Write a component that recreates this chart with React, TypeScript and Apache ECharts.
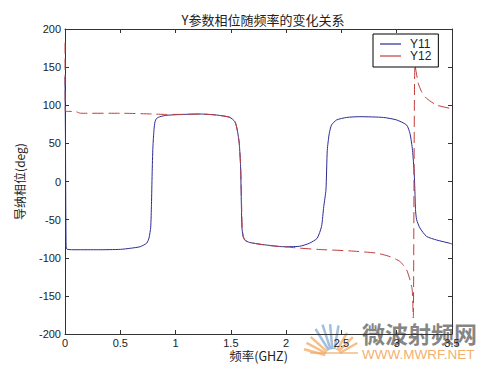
import React, { useEffect, useRef } from "react";
import * as echarts from "echarts";

const titleText = "Y参数相位随频率的变化关系";
const xName = "频率(GHZ)";
const yName = "导纳相位(deg)";
const seriesNames = ["Y11", "Y12"];

const y11Freq = [
  0, 0.004, 0.01, 0.02, 0.1, 0.3, 0.5, 0.59, 0.68, 0.74, 0.76, 0.775, 0.782, 0.788, 0.795, 0.805,
  0.814, 0.829, 0.859, 0.919, 1.07, 1.22, 1.37, 1.49, 1.537, 1.558, 1.576, 1.588, 1.595, 1.6, 1.61,
  1.627, 1.67, 1.82, 1.97, 2.12, 2.21, 2.28, 2.32, 2.34, 2.36, 2.372, 2.39, 2.41, 2.456, 2.547,
  2.667, 2.88, 3.0, 3.09, 3.12, 3.143, 3.158, 3.165, 3.17, 3.18, 3.21, 3.27, 3.36, 3.48, 3.5,
];
const y11Phase = [
  137, 60, -85, -89, -89.5, -89.5, -89, -87.6, -85.5, -80.7, -74, -60, -30, 10, 45, 68,
  78.4, 82.8, 85, 86.8, 88, 88.5, 87.2, 84.2, 78.4, 67.5, 50, 19.4, -30, -60, -72,
  -77, -80, -83.3, -85.5, -85, -81, -74.5, -59, -33, -11, 41, 63, 74, 80.7, 84,
  85, 84, 80.7, 74, 63, 41, 11, -15, -37, -50, -61, -72, -76.7, -81, -82,
];

const y12Freq = [
  0, 0.003, 0.01, 0.1, 0.14, 0.5, 0.8, 0.9, 1.07, 1.22, 1.37, 1.49, 1.537, 1.558, 1.576, 1.59,
  1.597, 1.603, 1.613, 1.63, 1.67, 1.82, 2.03, 2.276, 2.577, 2.82, 2.94, 3.03, 3.09, 3.12, 3.14,
  3.15, 3.165, 3.195, 3.225, 3.27, 3.36, 3.48, 3.5,
];
const y12Phase = [
  182, 92, 92, 91.5, 89.5, 89.5, 88.5, 88, 88, 88.5, 87.2, 84.2, 78.4, 67.5, 50, 15,
  -30, -60, -72, -77, -80, -83.5, -86.3, -89, -91, -94, -98.6, -105, -116, -129, -142,
  -179, 152.8, 128.8, 117.8, 109, 100.3, 96, 95.5,
];

const zip = (xs: number[], ys: number[]) => xs.map((x, i) => [x, ys[i]]);

export default function App() {
  const ref = useRef<HTMLDivElement>(null);
  useEffect(() => {
    if (!ref.current) return;
    const chart = echarts.init(ref.current, null, { renderer: "svg" });
    const axisColor = "#333";
    const labelStyle = { color: "#222", fontSize: 11, fontFamily: "Liberation Sans, Arial, sans-serif" };
    const cx = 333;
    const cy = 357;
    const rays: any[] = [];
    const rayDefs = [
      { a: 165, l: 30, c: "rgba(240,170,100,0.75)" },
      { a: 152, l: 30, c: "rgba(240,170,100,0.75)" },
      { a: 138, l: 30, c: "rgba(240,170,100,0.75)" },
      { a: 122, l: 33, c: "rgba(140,175,215,0.8)" },
      { a: 108, l: 34, c: "rgba(140,175,215,0.8)" },
      { a: 95, l: 33, c: "rgba(140,175,215,0.8)" },
      { a: 80, l: 32, c: "rgba(140,175,215,0.8)" },
      { a: 60, l: 28, c: "rgba(240,170,100,0.75)" },
      { a: 45, l: 28, c: "rgba(240,170,100,0.75)" },
      { a: 30, l: 28, c: "rgba(240,170,100,0.75)" },
    ];
    rayDefs.forEach((r) => {
      const rad = (r.a * Math.PI) / 180;
      rays.push({
        type: "line",
        shape: {
          x1: cx + Math.cos(rad) * 8,
          y1: cy - Math.sin(rad) * 8,
          x2: cx + Math.cos(rad) * r.l,
          y2: cy - Math.sin(rad) * r.l,
        },
        style: { stroke: r.c, lineWidth: 2.5 },
        silent: true,
      });
    });
    const axisCommon = {
      axisLine: { show: true, onZero: false, lineStyle: { color: axisColor, width: 1 } },
      axisTick: { show: true, inside: true, length: 4, lineStyle: { color: axisColor } },
      splitLine: { show: false },
    };
    chart.setOption({
      animation: false,
      backgroundColor: "#fff",
      title: {
        text: titleText,
        left: 258,
        textAlign: "center",
        top: 8,
        textStyle: { fontSize: 13, fontWeight: "normal", color: "#222", fontFamily: "Noto Sans CJK SC" },
      },
      legend: {
        data: seriesNames,
        orient: "vertical",
        left: 373,
        top: 34,
        padding: [4, 7, 5, 7],
        icon: "rect",
        itemWidth: 21,
        itemHeight: 1.2,
        itemGap: 0,
        borderColor: "#000",
        borderWidth: 1,
        backgroundColor: "#fff",
        textStyle: { fontSize: 12, lineHeight: 12, color: "#222", padding: [0, 0, 0, 4], fontFamily: "Liberation Sans, Arial, sans-serif" },
      },
      grid: { left: 65, right: 48, top: 29, bottom: 41, outerBoundsMode: "none", containLabel: false },
      xAxis: [
        {
          type: "value",
          min: 0,
          max: 3.5,
          interval: 0.5,
          name: xName,
          nameLocation: "middle",
          nameGap: 15.5,
          nameMoveOverlap: false,
          nameTextStyle: { fontSize: 12.5, color: "#222", fontFamily: "Noto Sans CJK SC" },
          axisLabel: { ...labelStyle, margin: 3 },
          ...axisCommon,
        },
        {
          type: "value",
          position: "top",
          min: 0,
          max: 3.5,
          interval: 0.5,
          axisLabel: { show: false },
          ...axisCommon,
        },
      ],
      yAxis: [
        {
          type: "value",
          min: -200,
          max: 200,
          interval: 50,
          name: yName,
          nameLocation: "middle",
          nameGap: 40,
          nameMoveOverlap: false,
          nameTextStyle: { fontSize: 12, color: "#222", fontFamily: "Noto Sans CJK SC" },
          axisLabel: { ...labelStyle, margin: 4 },
          ...axisCommon,
        },
        {
          type: "value",
          position: "right",
          min: -200,
          max: 200,
          interval: 50,
          axisLabel: { show: false },
          ...axisCommon,
        },
      ],
      series: [
        {
          name: seriesNames[0],
          type: "line",
          data: zip(y11Freq, y11Phase),
          showSymbol: false,
          symbol: "none",
          smooth: 0.2,
          color: "#2b2b96",
          lineStyle: { color: "#2b2b96", width: 1 },
        },
        {
          name: seriesNames[1],
          type: "line",
          data: zip(y12Freq, y12Phase),
          showSymbol: false,
          symbol: "none",
          smooth: 0.2,
          color: "#c0403c",
          lineStyle: { color: "#c0403c", width: 1, type: [11, 5] },
        },
      ],
      graphic: [
        ...rays,
        {
          type: "line",
          shape: { x1: 310, y1: 353, x2: 358, y2: 353 },
          style: { stroke: "rgba(240,170,100,0.6)", lineWidth: 2 },
          silent: true,
        },
        {
          type: "text",
          left: 362,
          top: 321,
          silent: true,
          style: {
            text: "微波射频网",
            fontSize: 23,
            fontWeight: "bold",
            fill: "rgba(105,105,105,0.82)",
            fontFamily: "Noto Sans CJK SC",
          },
        },
        {
          type: "text",
          left: 362,
          top: 347,
          silent: true,
          style: {
            text: "WWW.MWRF.NET",
            fontSize: 13.5,
            fill: "rgba(240,160,80,0.85)",
            fontFamily: "Liberation Sans, Arial, sans-serif",
          },
        },
      ],
    });
    return () => chart.dispose();
  }, []);
  return <div ref={ref} style={{ width: 500, height: 375, position: "absolute", left: 0, top: 0 }} />;
}
